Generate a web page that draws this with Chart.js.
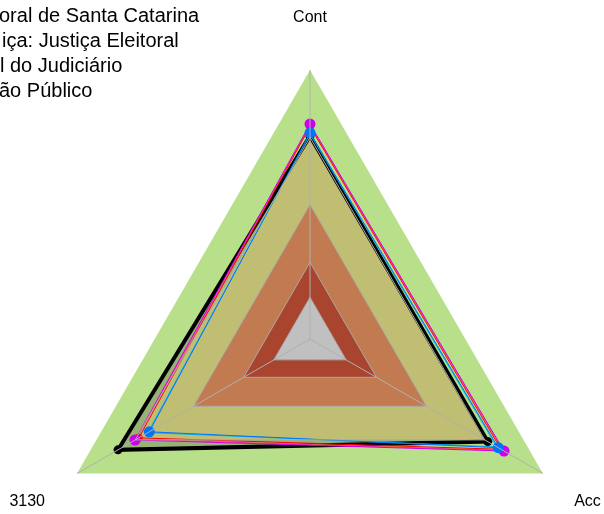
<!DOCTYPE html>
<html>
<head>
<meta charset="utf-8">
<script src="https://cdn.jsdelivr.net/npm/chart.js"></script>
<style>
  html, body { margin: 0; padding: 0; background: #fff; overflow: hidden; }
  #wrap { position: relative; width: 604px; height: 514px; }
  #legend { position: absolute; top: 3px; left: 0; font: 20px "Liberation Sans", Arial, sans-serif;
            line-height: 25px; color: #000; white-space: nowrap; }
  #legend div { position: relative; }
</style>
</head>
<body>
<div id="wrap">
  <canvas id="myChart" width="604" height="514"></canvas>
  <div id="legend"></div>
</div>
<script>
// eixos do radar
const axisLabels = ['Cont', 'Acc', '3130'];

// faixas de fundo (de fora para dentro)
const bandLevels = [100, 75, 50, 28.5, 15.5];

// nomes das séries (só a parte visível da legenda)
const seriesNames = [
  'oral de Santa Catarina',
  'iça: Justiça Eleitoral',
  'l do Judiciário',
  'ão Público'
];

// valores das séries
const treSc      = [75.5, 76.3, 82.4];
const ramoJust   = [76.6, 80.8, 69.0];
const judiciario = [76.2, 80.2, 69.6];
const ministerio = [79.9, 83.3, 75.1];
const serieRed   = [79.0, 82.0, 73.5];
const seriePink  = [79.5, 82.8, 74.6];
const serieYel   = [79.2, 82.5, 74.9];

// cores
const bandColors = ['#b8df8a', '#bfbe72', '#c27b50', '#a9442e', '#c0c0c0'];

// legenda (texto cortado à esquerda como no original)
const legendShift = [-1, 2, 0, -1];
const legendEl = document.getElementById('legend');
seriesNames.forEach((name, i) => {
  const d = document.createElement('div');
  d.textContent = name;
  d.style.left = legendShift[i] + 'px';
  legendEl.appendChild(d);
});

function band(i) {
  return {
    label: 'faixa ' + i,
    data: axisLabels.map(() => bandLevels[i]),
    fill: true,
    backgroundColor: bandColors[i],
    borderWidth: 0,
    pointRadius: 0,
    order: 100 - i * 10
  };
}

function serie(label, data, color, width, radius, order) {
  return {
    label: label,
    data: data,
    fill: false,
    borderColor: color,
    backgroundColor: color,
    borderWidth: width,
    pointRadius: radius,
    pointBorderWidth: 0,
    pointBackgroundColor: color,
    order: order
  };
}

const ctx = document.getElementById('myChart').getContext('2d');
const chart = new Chart(ctx, {
  type: 'radar',
  data: {
    labels: axisLabels,
    datasets: [
      band(0),
      // área escura entre a faixa verde e a linha preta
      { label: 'area', data: treSc, fill: true, backgroundColor: '#97b274', borderWidth: 0, pointRadius: 0, order: 95 },
      band(1), band(2), band(3), band(4),
      serie(seriesNames[0], treSc, '#000000', 4, 4.5, 40),
      serie('s7', serieYel, '#f0e000', 1, 0, 36),
      serie(seriesNames[2], judiciario, '#00b8e8', 1, 0, 35),
      serie('s6', seriePink, '#ff3399', 1, 0, 34),
      serie('s5', serieRed, '#ff0000', 1, 4, 33),
      serie(seriesNames[3], ministerio, '#cc00ee', 1, 5.5, 32),
      serie(seriesNames[1], ramoJust, '#0073ff', 1, 5.5, 31)
    ]
  },
  options: {
    responsive: false,
    animation: false,
    elements: { line: { tension: 0 } },
    plugins: { legend: { display: false }, tooltip: { enabled: false } },
    scales: {
      r: {
        min: 0,
        max: 100,
        // posição fixa do radar
        beforeFit: function (scale) {
          scale.setCenterPoint = function () {
            this.xCenter = 310;
            this.yCenter = 339;
            this.drawingArea = 269;
          };
        },
        afterBuildTicks: function (scale) {
          scale.ticks = [0].concat(bandLevels.slice(1).reverse()).map(v => ({ value: v }));
        },
        ticks: { display: false },
        grid: { color: '#a9a9a9', lineWidth: 1, z: 1 },
        angleLines: { color: '#b0b0b0', lineWidth: 1 },
        pointLabels: {
          color: '#000',
          font: { family: 'Liberation Sans', size: 16 },
          padding: c => [43, 36, 37][c.index]
        }
      }
    }
  }
});
</script>
</body>
</html>
